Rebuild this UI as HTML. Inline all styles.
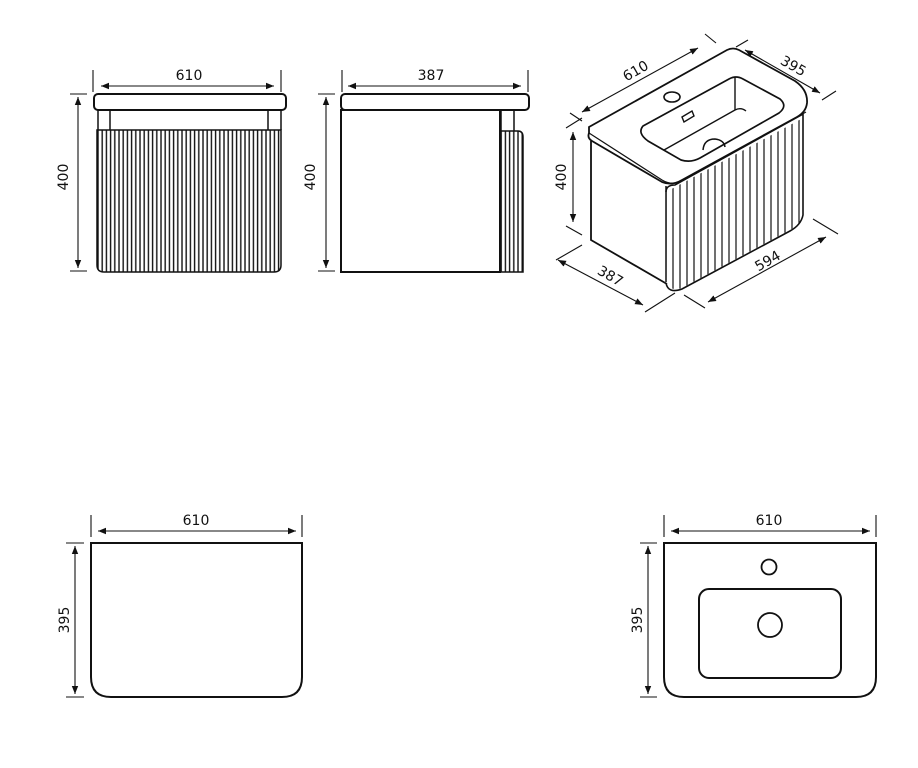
<!DOCTYPE html>
<html><head><meta charset="utf-8"><style>
html,body{margin:0;padding:0;background:#fff;}
svg{display:block;}
text{font-family:"DejaVu Sans","Liberation Sans",sans-serif;font-size:14px;fill:#111;}
</style></head><body>
<svg width="918" height="768" viewBox="0 0 918 768" xmlns="http://www.w3.org/2000/svg">
<defs>
<marker id="a" viewBox="0 0 10 10" refX="10" refY="5" markerWidth="8" markerHeight="8" orient="auto-start-reverse" markerUnits="userSpaceOnUse"><path d="M0,1 L10,5 L0,9 Z" fill="#111"/></marker>
<pattern id="fl" width="4.2" height="10" patternUnits="userSpaceOnUse" x="97"><line x1="1" y1="0" x2="1" y2="10" stroke="#111" stroke-width="1.4"/></pattern>
<pattern id="fl2" width="7" height="10" patternUnits="userSpaceOnUse" x="665"><line x1="1" y1="0" x2="1" y2="10" stroke="#111" stroke-width="1.2"/></pattern>
<clipPath id="iso"><path d="M666,192 L803,118 L803,215 Q800,225 790,230 L682,288 Q670,292 667,282 Z"/></clipPath>
</defs>
<g fill="none" stroke="#111" stroke-width="1.1">
<line x1="93" y1="70" x2="93" y2="92"/><line x1="281" y1="70" x2="281" y2="92"/>
<line x1="101" y1="86" x2="274" y2="86" marker-start="url(#a)" marker-end="url(#a)"/>
<line x1="70" y1="94" x2="87" y2="94"/><line x1="70" y1="271" x2="87" y2="271"/>
<line x1="78" y1="97" x2="78" y2="268" marker-start="url(#a)" marker-end="url(#a)"/>
<rect x="94" y="94" width="192" height="16" rx="4" stroke-width="2"/>
<line x1="98" y1="110" x2="98" y2="130" stroke-width="1.5"/><line x1="110" y1="110" x2="110" y2="130" stroke-width="1.5"/>
<line x1="268" y1="110" x2="268" y2="130" stroke-width="1.5"/><line x1="281" y1="110" x2="281" y2="130" stroke-width="1.5"/>
<path d="M97,130 L281,130 L281,265 Q281,272 274,272 L104,272 Q97,272 97,265 Z" fill="url(#fl)" stroke-width="1.5"/>
<line x1="342" y1="70" x2="342" y2="92"/><line x1="528" y1="70" x2="528" y2="92"/>
<line x1="348" y1="86" x2="521" y2="86" marker-start="url(#a)" marker-end="url(#a)"/>
<line x1="318" y1="94" x2="335" y2="94"/><line x1="318" y1="271" x2="335" y2="271"/>
<line x1="326" y1="97" x2="326" y2="268" marker-start="url(#a)" marker-end="url(#a)"/>
<rect x="341" y="94" width="188" height="16" rx="4" stroke-width="2"/>
<rect x="341" y="110" width="159" height="162" stroke-width="2"/>
<line x1="501" y1="110" x2="501" y2="131" stroke-width="1.5"/><line x1="514" y1="110" x2="514" y2="131" stroke-width="1.5"/>
<path d="M500,131 L518,131 Q523,131 523,137 L523,272 L500,272 Z" fill="url(#fl)" stroke-width="1.5"/>
<path d="M589,127 L727,50 Q733,47 739,50 L795,81 Q808,90 807,103 Q806,112 797,117 L682,180 Q672,186 662,182 L592,141 Q587,138 589,133 Z" stroke-width="1.8" fill="#fff"/>
<path d="M589,133 L662,180 Q672,186 682,181 L806,112" stroke-width="1.2"/>
<path d="M591,141 L591,240 L667,284" stroke-width="1.8"/>
<path d="M666,186 L666,282" stroke-width="1.5"/>
<rect x="600" y="100" width="220" height="200" fill="url(#fl2)" clip-path="url(#iso)" stroke="none"/>
<path d="M666,192 Q666,185 675,185 L803,114 M803,114 L803,215 Q801,225 790,231 L682,289 Q668,294 666,283" stroke-width="1.6"/>
<path d="M643,126 L729,79 Q736,75 743,79 L780,99 Q788,106 779,113 L700,158 Q691,163 681,160 L648,141 Q637,133 643,126 Z" stroke-width="1.7"/>
<path d="M664,150 L735,110 Q741,107 746,111 M735,110 L735,77" stroke-width="1.4"/>
<ellipse cx="672" cy="97" rx="8" ry="5" stroke-width="1.6"/>
<path d="M682,117 L692,111 L694,116 L684,122 Z" stroke-width="1.4"/>
<path d="M703,150 Q704,139 715,139 Q724,140 725,147" stroke-width="1.5"/>
<line x1="582" y1="112" x2="698" y2="48" marker-start="url(#a)" marker-end="url(#a)"/>
<line x1="570" y1="113" x2="582" y2="121"/><line x1="705" y1="34" x2="716" y2="43"/>
<line x1="745" y1="50" x2="820" y2="93" marker-start="url(#a)" marker-end="url(#a)"/>
<line x1="736" y1="47" x2="748" y2="40"/><line x1="822" y1="100" x2="836" y2="91"/>
<line x1="573" y1="132" x2="573" y2="222" marker-start="url(#a)" marker-end="url(#a)"/>
<line x1="566" y1="128" x2="582" y2="118"/><line x1="566" y1="226" x2="582" y2="235"/>
<line x1="558" y1="260" x2="643" y2="305" marker-start="url(#a)" marker-end="url(#a)"/>
<line x1="556" y1="260" x2="582" y2="245"/><line x1="645" y1="312" x2="675" y2="293"/>
<line x1="708" y1="302" x2="826" y2="237" marker-start="url(#a)" marker-end="url(#a)"/>
<line x1="684" y1="295" x2="705" y2="308"/><line x1="813" y1="219" x2="838" y2="234"/>
<line x1="91" y1="515" x2="91" y2="537"/><line x1="302" y1="515" x2="302" y2="537"/>
<line x1="98" y1="531" x2="296" y2="531" marker-start="url(#a)" marker-end="url(#a)"/>
<line x1="66" y1="543" x2="84" y2="543"/><line x1="66" y1="697" x2="84" y2="697"/>
<line x1="75" y1="546" x2="75" y2="694" marker-start="url(#a)" marker-end="url(#a)"/>
<path d="M91,543 L302,543 L302,677 Q302,697 282,697 L111,697 Q91,697 91,677 Z" stroke-width="2"/>
<line x1="664" y1="515" x2="664" y2="537"/><line x1="876" y1="515" x2="876" y2="537"/>
<line x1="671" y1="531" x2="870" y2="531" marker-start="url(#a)" marker-end="url(#a)"/>
<line x1="640" y1="543" x2="657" y2="543"/><line x1="640" y1="697" x2="657" y2="697"/>
<line x1="648" y1="546" x2="648" y2="694" marker-start="url(#a)" marker-end="url(#a)"/>
<path d="M664,543 L876,543 L876,677 Q876,697 856,697 L684,697 Q664,697 664,677 Z" stroke-width="2"/>
<rect x="699" y="589" width="142" height="89" rx="10" stroke-width="2"/>
<circle cx="769" cy="567" r="7.5" stroke-width="1.8"/>
<circle cx="770" cy="625" r="12" stroke-width="1.8"/>
</g>
<text x="189" y="80" text-anchor="middle">610</text>
<text x="431" y="80" text-anchor="middle">387</text>
<text transform="translate(68,177) rotate(-90)" text-anchor="middle">400</text>
<text transform="translate(315,177) rotate(-90)" text-anchor="middle">400</text>
<text transform="translate(638,75) rotate(-30)" text-anchor="middle">610</text>
<text transform="translate(791,70) rotate(30)" text-anchor="middle">395</text>
<text transform="translate(566,177) rotate(-90)" text-anchor="middle">400</text>
<text transform="translate(608,280) rotate(30)" text-anchor="middle">387</text>
<text transform="translate(770,265) rotate(-30)" text-anchor="middle">594</text>
<text x="196" y="525" text-anchor="middle">610</text>
<text x="769" y="525" text-anchor="middle">610</text>
<text transform="translate(69,620) rotate(-90)" text-anchor="middle">395</text>
<text transform="translate(642,620) rotate(-90)" text-anchor="middle">395</text>
</svg>
</body></html>
